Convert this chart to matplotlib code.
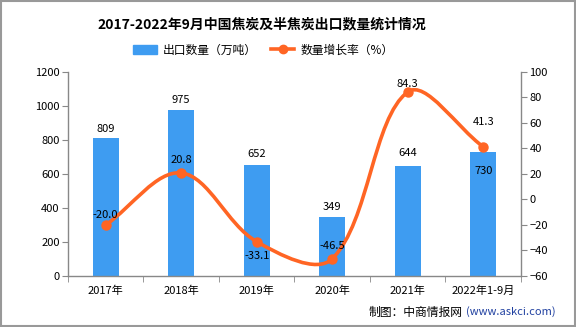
import matplotlib
matplotlib.use('Agg')
import matplotlib.pyplot as plt
import numpy as np
from matplotlib.path import Path
from matplotlib.patches import PathPatch, Rectangle
from matplotlib.lines import Line2D

plt.rcParams['font.family'] = ['Noto Sans CJK SC', 'DejaVu Sans']

years = ['2017年', '2018年', '2019年', '2020年', '2021年', '2022年1-9月']
volume = [809, 975, 652, 349, 644, 730]
growth = [-20.0, 20.8, -33.1, -46.5, 84.3, 41.3]
growth_labels = ['-20.0', '20.8', '-33.1', '-46.5', '84.3', '41.3']

bar_color = '#3E9CF1'
line_color = '#FF6524'
axis_color = '#888888'

fig = plt.figure(figsize=(5.76, 3.27), dpi=100)
ax = fig.add_axes([0.118, 0.156, 0.7865, 0.624])
ax2 = ax.twinx()

x = np.arange(len(years))
ax.bar(x, volume, width=0.35, color=bar_color, zorder=2)
ax.set_xlim(-0.5, len(years) - 0.5)
ax.set_ylim(0, 1200)
ax.set_yticks(range(0, 1201, 200))
ax2.set_ylim(-60, 100)
ax2.set_yticks(range(-60, 101, 20))

# bar value labels (offsets in points)
bar_off = [7, 7, 8, 7, 10, -14]
for i, v in enumerate(volume):
    ax.annotate(str(v), (x[i], v), xytext=(0, bar_off[i]), textcoords='offset points',
                ha='center', va='center', fontsize=8, zorder=5)

# smooth line, echarts-like bezier control points worked out in pixel space
fig.canvas.draw()
pix = ax2.transData.transform(np.column_stack([x, growth]).astype(float))
smooth = 0.35
n = len(pix)
cps = []
for i in range(n):
    p = pix[i]
    prev = pix[i - 1] if i > 0 else p
    nxt = pix[i + 1] if i < n - 1 else p
    v = (nxt - prev) * smooth
    d0 = np.hypot(*(p - prev))
    d1 = np.hypot(*(p - nxt))
    tot = d0 + d1
    if tot > 0:
        d0, d1 = d0 / tot, d1 / tot
    cps.append((p - v * d0, p + v * d1))
verts = [pix[0]]
codes = [Path.MOVETO]
for i in range(n - 1):
    verts += [cps[i][1], cps[i + 1][0], pix[i + 1]]
    codes += [Path.CURVE4] * 3
verts = ax2.transData.inverted().transform(np.array(verts))
ax2.add_patch(PathPatch(Path(verts, codes), fill=False, edgecolor=line_color, lw=2.6,
                        capstyle='round', zorder=3))
ax2.plot(x, growth, 'o', color=line_color, ms=6.5, zorder=4)

line_off = [7, 9, -10, 9, 6, 18]
for i, v in enumerate(growth):
    ax2.annotate(growth_labels[i], (x[i], v), xytext=(0, line_off[i]), textcoords='offset points',
                 ha='center', va='center', fontsize=8, zorder=5)

# axes styling
for a in (ax, ax2):
    a.spines['top'].set_visible(False)
    for sp in a.spines.values():
        sp.set_color(axis_color)
        sp.set_linewidth(1)
ax.spines['right'].set_visible(False)
ax2.spines['left'].set_visible(False)
ax2.spines['bottom'].set_visible(False)
ax.set_xticks(x)
ax.set_xticklabels(years, fontsize=8)
ax.tick_params(axis='x', length=0, pad=7)
ax.set_xticks(np.arange(-0.5, len(years), 1), minor=True)
ax.tick_params(axis='x', which='minor', length=4, color=axis_color)
ax.tick_params(axis='y', length=4, color=axis_color, labelsize=8, pad=2)
ax2.tick_params(axis='y', length=4, color=axis_color, labelsize=8, pad=2)

fig.text(0.455, 0.924, '2017-2022年9月中国焦炭及半焦炭出口数量统计情况', ha='center', va='center',
         fontsize=10, fontweight='bold')

handles = [Rectangle((0, 0), 1, 1, color=bar_color),
           Line2D([0], [0], color=line_color, lw=2.6, marker='o', ms=6)]
fig.legend(handles, ['出口数量（万吨）', '数量增长率（%）'], loc='center', bbox_to_anchor=(0.457, 0.847),
           ncol=2, frameon=False, fontsize=8.5, handlelength=2.0, handleheight=0.7,
           columnspacing=1.2, handletextpad=0.5)

fig.text(369 / 576, 0.046, '制图：中商情报网', ha='left', va='center', fontsize=8.5)
fig.text(466 / 576, 0.046, '(www.askci.com)', ha='left', va='center', fontsize=8, color='#2040A0')

fig.patches.append(Rectangle((0.001, 0.002), 0.997, 0.995, transform=fig.transFigure, fill=False,
                             edgecolor='#999999', lw=1.5))

fig.savefig('out.png', dpi=100)
